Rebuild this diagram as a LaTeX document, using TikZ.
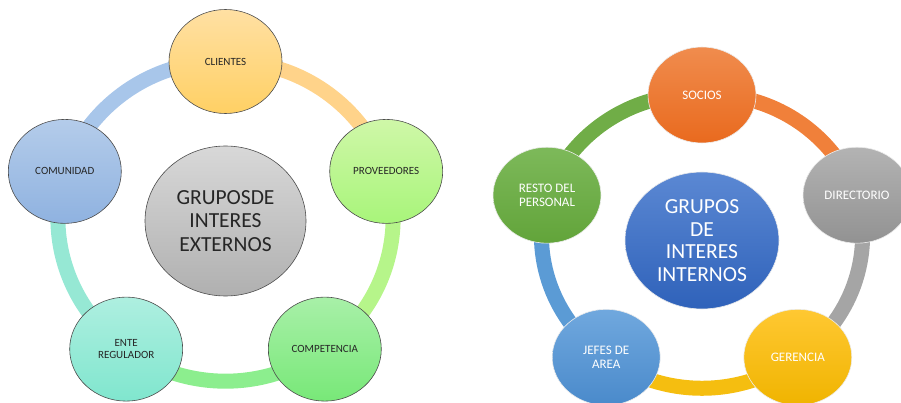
\documentclass[tikz,border=0pt]{standalone}
\usepackage{fontspec}
\setmainfont{Carlito}
\usepackage{tikz}
\usetikzlibrary{shapes,backgrounds}

% left cycle
\definecolor{extTop}{HTML}{D8D8D8}\definecolor{extBot}{HTML}{B0B0B0}
\definecolor{cliTop}{HTML}{FFE0A3}\definecolor{cliBot}{HTML}{FFD064}\definecolor{cliRing}{HTML}{FFD38A}
\definecolor{proTop}{HTML}{CFF7A8}\definecolor{proBot}{HTML}{A8F57A}\definecolor{proRing}{HTML}{B6F58A}
\definecolor{comTop}{HTML}{A8F0A8}\definecolor{comBot}{HTML}{78E878}\definecolor{comRing}{HTML}{8CEE8E}
\definecolor{entTop}{HTML}{AEEFE0}\definecolor{entBot}{HTML}{80E6CE}\definecolor{entRing}{HTML}{96E8D4}
\definecolor{cmuTop}{HTML}{B4CCEA}\definecolor{cmuBot}{HTML}{8FB2E0}\definecolor{cmuRing}{HTML}{A8C6EA}
% right cycle
\definecolor{intTop}{HTML}{5B88D3}\definecolor{intBot}{HTML}{2F62BA}
\definecolor{socTop}{HTML}{F08C4E}\definecolor{socBot}{HTML}{E96A1E}\definecolor{socRing}{HTML}{F0803A}
\definecolor{dirTop}{HTML}{B3B3B3}\definecolor{dirBot}{HTML}{929292}\definecolor{dirRing}{HTML}{A5A5A5}
\definecolor{gerTop}{HTML}{FFC832}\definecolor{gerBot}{HTML}{F0B400}\definecolor{gerRing}{HTML}{F5BE10}
\definecolor{jefTop}{HTML}{70A8DE}\definecolor{jefBot}{HTML}{4A8ACB}\definecolor{jefRing}{HTML}{5B9BD5}
\definecolor{resTop}{HTML}{7DB95A}\definecolor{resBot}{HTML}{62A43A}\definecolor{resRing}{HTML}{70AD47}

\tikzset{
  extnode/.style={ellipse,draw=gray!60!black,line width=0.6pt,minimum width=113pt,
    minimum height=104pt,inner sep=0pt,align=center,text=black!85,
    font=\fontsize{11}{11.7}\selectfont},
  intnode/.style={ellipse,draw=white!85!gray,line width=0.6pt,minimum width=108pt,
    minimum height=96pt,inner sep=0pt,align=center,text=white,
    font=\fontsize{13}{14}\selectfont},
  ring/.style={line width=15pt,bend left=36,looseness=0.94},
}

\begin{document}
\begin{tikzpicture}[x=1pt,y=1pt]
  \useasboundingbox (0,0) rectangle (901,402);

  % Grupos externos
  \node[ellipse,draw=gray!60!black,line width=0.6pt,minimum width=161pt,minimum height=150pt,
        top color=extTop,bottom color=extBot,text=black!85,align=center,
        font=\fontsize{21.5}{23.5}\selectfont] (ext) at (225.5,181) {GRUPOSDE\\INTERES\\EXTERNOS};
  \node[extnode,top color=cliTop,bottom color=cliBot] (cli) at (225.5,340.5) {CLIENTES};
  \node[extnode,top color=proTop,bottom color=proBot] (pro) at (386.2,230.6) {PROVEEDORES};
  \node[extnode,top color=comTop,bottom color=comBot] (com) at (324.8,52.9) {COMPETENCIA};
  \node[extnode,top color=entTop,bottom color=entBot] (ent) at (126.2,52.9) {ENTE\\REGULADOR};
  \node[extnode,top color=cmuTop,bottom color=cmuBot] (cmu) at (64.8,230.6) {COMUNIDAD};
  % Ring
  \begin{scope}[on background layer]
    \draw[ring,cliRing] (cli.center) to (pro.center);
    \draw[ring,proRing] (pro.center) to (com.center);
    \draw[ring,comRing] (com.center) to (ent.center);
    \draw[ring,entRing] (ent.center) to (cmu.center);
    \draw[ring,cmuRing] (cmu.center) to (cli.center);
  \end{scope}

  % Grupos internos
  \node[ellipse,draw=white!85!gray,line width=0.6pt,minimum width=154pt,minimum height=137pt,
        top color=intTop,bottom color=intBot,text=white,align=center,
        font=\fontsize{21.5}{22.5}\selectfont]
        (int) at (702,161.5) {GRUPOS\\DE\\INTERES\\INTERNOS};
  \node[intnode,top color=socTop,bottom color=socBot] (soc) at (702,307) {SOCIOS};
  \node[intnode,top color=dirTop,bottom color=dirBot] (dir) at (857,206.8) {DIRECTORIO};
  \node[intnode,top color=gerTop,bottom color=gerBot] (ger) at (797.8,44.7) {GERENCIA};
  \node[intnode,top color=jefTop,bottom color=jefBot] (jef) at (606.2,44.7) {JEFES DE\\AREA};
  \node[intnode,top color=resTop,bottom color=resBot] (res) at (547,206.8) {RESTO DEL\\PERSONAL};
  % Ring
  \begin{scope}[on background layer]
    \draw[ring,socRing] (soc.center) to (dir.center);
    \draw[ring,dirRing] (dir.center) to (ger.center);
    \draw[ring,gerRing] (ger.center) to (jef.center);
    \draw[ring,jefRing] (jef.center) to (res.center);
    \draw[ring,resRing] (res.center) to (soc.center);
  \end{scope}
\end{tikzpicture}
\end{document}
